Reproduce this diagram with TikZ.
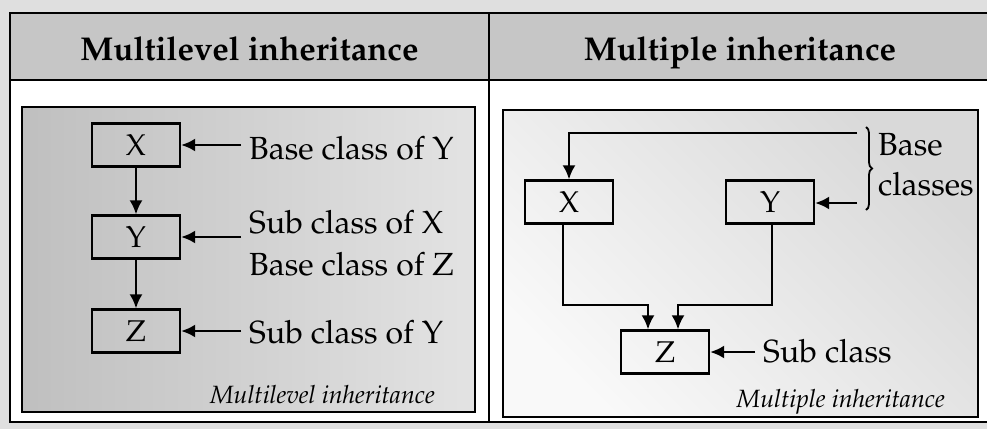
\documentclass[tikz,border=0pt]{standalone}
\usepackage[T1]{fontenc}
\usepackage{mathpazo}
\usetikzlibrary{arrows.meta,decorations.pathreplacing}

\tikzset{
  rule/.style={line width=2.4pt},
  panel/.style={draw,line width=2pt},
  cls/.style={draw,line width=2.3pt,minimum width=88pt,minimum height=43pt,inner sep=0pt,font=\fontsize{30}{36}\selectfont},
  lbl/.style={anchor=base west,inner xsep=8pt,inner ysep=0pt,font=\fontsize{32}{42}\selectfont},
  head/.style={anchor=base,inner sep=0pt,font=\fontsize{33}{40}\selectfont\bfseries},
  capt/.style={anchor=base east,inner sep=0pt,font=\fontsize{25}{30}\selectfont\itshape},
  arr/.style={line width=2.3pt,-{Latex[length=14pt,width=13pt]}},
  brc/.style={line width=1.8pt,decorate,decoration={brace,amplitude=6pt}}
}

\begin{document}
\begin{tikzpicture}[x=1pt,y=-1pt]
				\useasboundingbox (0,0) rectangle (987,429);
				\fill[gray!25] (0,0) rectangle (987,429);
				
				\shade[left color=gray!45,middle color=gray!18,right color=gray!45] (10,13) rectangle (489,80);
				\shade[left color=gray!45,middle color=gray!18,right color=gray!45] (489,13) rectangle (990,80);
				\fill[white] (10,80) rectangle (990,422);
				\draw[rule] (990,13) -- (10,13) -- (10,422) -- (990,422);
				\draw[rule] (10,80) -- (990,80);
				\draw[rule] (489,13) -- (489,422);
				
				\shade[panel,left color=gray!50,middle color=gray!15,right color=gray!22] (22,107) rectangle (475,412);
				\shade[panel,left color=gray!5,right color=gray!30,shading angle=135] (503,110) rectangle (978,417);
				
				\node[head] (hl) at (249.5,60) {Multilevel inheritance};
				\node[head] (hr) at (740,60) {Multiple inheritance};
				
				\node[cls] (lX) at (136,145) {X};
				\node[cls] (lY) at (136,237) {Y};
				\node[cls] (lZ) at (136,331) {Z};
				\draw[arr] (lX) -- (lY);
				\draw[arr] (lY) -- (lZ);
				
				\node[lbl] (lbX) at (241,159) {Base class of Y};
				\node[lbl] (lbY) at (241,233) {Sub class of X};
				\node[lbl] (lbY2) at (241,275) {Base class of Z};
				\node[lbl] (lbZ) at (241,343) {Sub class of Y};
				\draw[arr] (lbX.west |- lX) -- (lX);
				\draw[arr] (lbY.west |- lY) -- (lY);
				\draw[arr] (lbZ.west |- lZ) -- (lZ);
				
				\node[capt] (cl) at (435,403) {Multilevel inheritance};
				
				\node[cls] (mX) at (569,202) {X};
				\node[cls] (mY) at (770,202) {Y};
				\node[cls] (mZ) at (665,352) {Z};
				\coordinate (tp) at (857,133);
				\coordinate (yp) at (857,203);
				\draw[arr] (tp) -| (mX);
				\draw[arr] (yp) -- (mY.east |- yp);
				\draw[arr] ([xshift=-6pt]mX.south) -- ++(0,80) -| ([xshift=-17pt]mZ.north);
				\draw[arr] ([xshift=2pt]mY.south) -- ++(0,80) -| ([xshift=13pt]mZ.north);
				
				\draw[brc] (866,127) -- (866,210);
				\node[anchor=base west,inner sep=0pt,font=\fontsize{32}{42}\selectfont] (bc1) at (878,155) {Base};
				\node[anchor=base west,inner sep=0pt,font=\fontsize{32}{42}\selectfont] (bc2) at (878,195) {classes};
				
				\node[lbl] (lbmZ) at (755,362) {Sub class};
				\draw[arr] (lbmZ.west |- mZ) -- (mZ);
				
				\node[capt] (cr) at (945,407) {Multiple inheritance};
				
\end{tikzpicture}
\end{document}
